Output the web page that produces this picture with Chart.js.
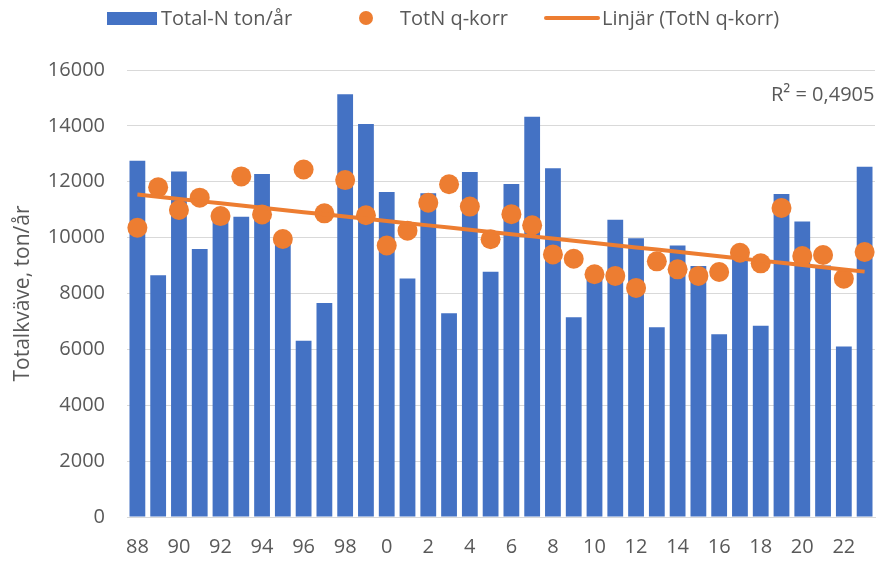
<!DOCTYPE html>
<html>
<head>
<meta charset="utf-8">
<script src="https://cdn.jsdelivr.net/npm/chart.js@4/dist/chart.umd.min.js"></script>
<style>
  html, body { margin: 0; padding: 0; background: #fff; }
  #wrap { position: relative; width: 885px; height: 563px; font-family: "Open Sans", sans-serif; color: #595959; }
  canvas { position: absolute; left: 0; top: 0; }
  .lg { position: absolute; font-size: 20px; line-height: 24px; top: 6px; white-space: nowrap; }
  .sw { position: absolute; }
  #r2 { position: absolute; left: 771px; top: 82px; font-size: 20px; line-height: 24px; white-space: nowrap; }
</style>
</head>
<body>
<div id="wrap">
  <canvas id="c" width="885" height="563"></canvas>
  <div class="sw" style="left:107px;top:12px;width:50px;height:13px;background:#4472C4"></div>
  <div class="lg" style="left:161px">Total-N ton/år</div>
  <div class="sw" style="left:359px;top:11px;width:14px;height:14px;border-radius:50%;background:#ED7D31"></div>
  <div class="lg" style="left:400px">TotN q-korr</div>
  <div class="sw" style="left:544px;top:16px;width:56px;height:4px;border-radius:2px;background:#ED7D31"></div>
  <div class="lg" style="left:602px">Linjär (TotN q-korr)</div>
  <div id="r2">R² = 0,4905</div>
</div>
<script>
const years = ['88','89','90','91','92','93','94','95','96','97','98','99',
  '0','1','2','3','4','5','6','7','8','9','10','11','12','13','14','15','16','17','18','19','20','21','22','23'];

const totalN = [12750, 8650, 12370, 9590, 10700, 10750, 12280, 9850, 6310, 7660, 15130, 14070,
  11630, 8540, 11590, 7290, 12350, 8780, 11920, 14330, 12480, 7150, 8700, 10640,
  9980, 6790, 9720, 8980, 6540, 9400, 6850, 11560, 10580, 9000, 6100, 12540];

const totNqkorr = [10355, 11800, 10990, 11430, 10770, 12190, 10830, 9950, 12440, 10870, 12060, 10800,
  9720, 10250, 11250, 11910, 11110, 9940, 10840, 10440, 9400, 9245, 8690, 8630,
  8200, 9150, 8865, 8630, 8770, 9460, 9080, 11060, 9340, 9380, 8530, 9485];

const yTicks = [0, 2000, 4000, 6000, 8000, 10000, 12000, 14000, 16000];

// least-squares linear trend of TotN q-korr (as the spreadsheet trendline)
const n = totNqkorr.length;
let sx = 0, sy = 0, sxy = 0, sxx = 0;
totNqkorr.forEach((v, i) => { sx += i; sy += v; sxy += i * v; sxx += i * i; });
const slope = (n * sxy - sx * sy) / (n * sxx - sx * sx);
const icpt = (sy - slope * sx) / n;
const trend = totNqkorr.map((v, i) => icpt + slope * i);

const grey = '#595959';
const font = { family: '"Open Sans", sans-serif', size: 20 };

new Chart(document.getElementById('c'), {
  data: {
    labels: years,
    datasets: [
      { type: 'line', label: 'Linjär (TotN q-korr)', data: trend, borderColor: '#ED7D31', borderWidth: 4,
        pointRadius: 0, fill: false, order: 1 },
      { type: 'line', label: 'TotN q-korr', data: totNqkorr, showLine: false, pointRadius: 10,
        pointBackgroundColor: '#ED7D31', pointBorderWidth: 0, borderColor: '#ED7D31', order: 2 },
      { type: 'bar', label: 'Total-N ton/år', data: totalN, backgroundColor: '#4472C4',
        categoryPercentage: 1.0, barPercentage: 0.76, order: 3 }
    ]
  },
  options: {
    responsive: false,
    animation: false,
    layout: { padding: { left: 0, right: 5, top: 70, bottom: 0 } },
    plugins: { legend: { display: false }, tooltip: { enabled: false } },
    scales: {
      x: {
        grid: { display: false },
        border: { display: true, color: '#d9d9d9', width: 1 },
        ticks: {
          color: grey, font: font, padding: 10, autoSkip: false, maxRotation: 0,
          callback: function (v, i) { return i % 2 === 0 ? years[i] : ''; }
        },
        afterFit: s => { s.height = 46; }
      },
      y: {
        min: 0, max: 16000,
        afterBuildTicks: s => { s.ticks = yTicks.map(v => ({ value: v })); },
        grid: { color: '#d9d9d9', drawTicks: false, lineWidth: 1 },
        border: { display: false },
        ticks: { color: grey, font: font, padding: 22, callback: v => String(v) },
        title: { display: true, text: 'Totalkväve, ton/år', color: grey,
          font: { family: '"Open Sans", sans-serif', size: 21 }, padding: { top: 10, bottom: 0 } },
        afterFit: s => { s.width = 127; }
      }
    }
  }
});
</script>
</body>
</html>
